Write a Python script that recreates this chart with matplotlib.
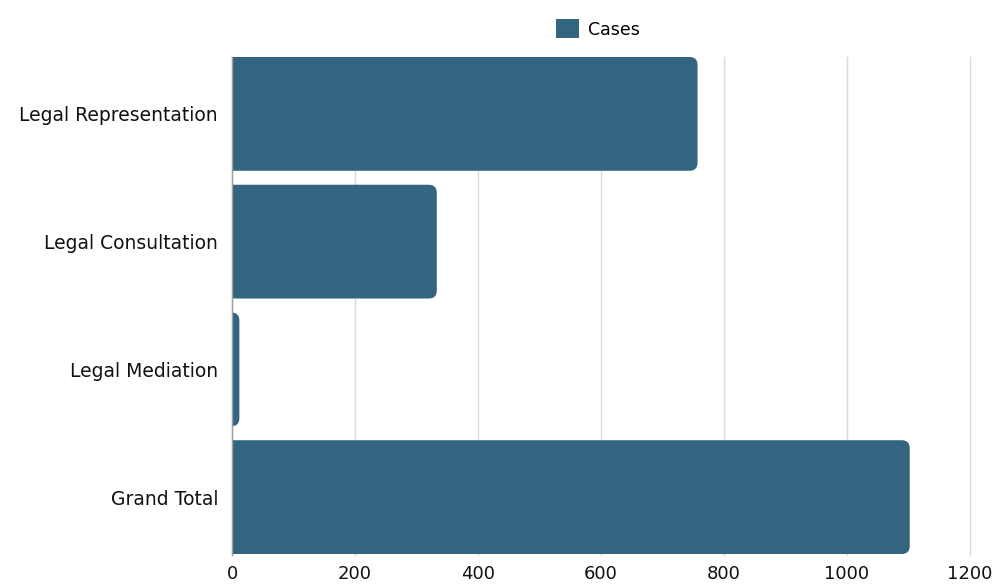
import matplotlib
matplotlib.use('Agg')
import matplotlib.pyplot as plt
from matplotlib.patches import FancyBboxPatch, Patch

plt.rcParams['font.family'] = ['DejaVu Sans']

# data
categories = ['Legal Representation', 'Legal Consultation', 'Legal Mediation', 'Grand Total']
cases = [757, 333, 12, 1102]
ticks = [0, 200, 400, 600, 800, 1000, 1200]

bar_color = '#336480'
text_color = '#111111'

fig = plt.figure(figsize=(9.96, 5.84), dpi=100)
ax_top, ax_bot = 57, 555
ax = fig.add_axes([232 / 996, 1 - ax_bot / 584, 738 / 996, (ax_bot - ax_top) / 584])

ax.set_xlim(0, 1200)
ax.set_ylim(3 + 58 / 128.0, -57 / 128.0)

# rounded right ends; left ends start below zero and get clipped by the axes
px_x = 1200 / 738.0
px_y = 1 / 128.0
r = 8 * px_x
h = 114 / 128.0
for i, v in enumerate(cases):
    p = FancyBboxPatch((-3 * r, i - h / 2), v + 3 * r, h,
                       boxstyle='round,pad=0,rounding_size=%f' % r,
                       mutation_aspect=px_y / px_x,
                       facecolor=bar_color, edgecolor='none', zorder=3)
    ax.add_patch(p)

ax.set_yticks(range(len(categories)))
ax.set_yticklabels(categories, fontsize=13.5, color=text_color)
ax.set_xticks(ticks)
ax.set_xticklabels([str(t) for t in ticks], fontsize=13, color=text_color)
ax.tick_params(axis='both', length=0)
ax.tick_params(axis='y', pad=10)
ax.tick_params(axis='x', pad=7)

ax.grid(axis='x', color='#d9d9d9', linewidth=1, zorder=0)
for g in ax.get_xgridlines():
    g.set_clip_on(False)
ax.grid(axis='y', visible=False)
for s in ['top', 'right', 'bottom']:
    ax.spines[s].set_visible(False)
ax.spines['left'].set_color('#9e9e9e')
ax.spines['left'].set_linewidth(1)
ax.spines['left'].set_zorder(4)

handle = Patch(facecolor=bar_color, edgecolor='none')
fig.legend([handle], ['Cases'], loc='center', bbox_to_anchor=(598 / 996, 1 - 29 / 584),
           frameon=False, fontsize=12.5, handlelength=1.3, handleheight=1.3,
           handletextpad=0.5)

fig.savefig('out.png', dpi=100)
